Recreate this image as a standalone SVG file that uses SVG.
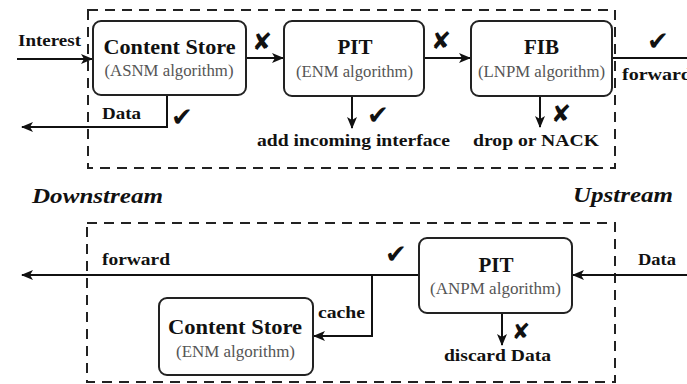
<svg xmlns="http://www.w3.org/2000/svg" width="687" height="384" viewBox="0 0 687 384">
<style>
.box{fill:#fff;stroke:#222;stroke-width:2}
.dash{fill:none;stroke:#222;stroke-width:2;stroke-dasharray:10 7}
.ln{fill:none;stroke:#111;stroke-width:2}
.t{font-family:"Liberation Serif","Times New Roman",serif;font-weight:bold;fill:#111}
.g{font-family:"Liberation Serif","Times New Roman",serif;fill:#555}
.bi{font-family:"Liberation Serif","Times New Roman",serif;font-weight:bold;font-style:italic;fill:#111}
.m{font-family:"DejaVu Sans",sans-serif;fill:#111}
</style>
<defs>
<marker id="ah" markerUnits="userSpaceOnUse" markerWidth="12" markerHeight="10" refX="11" refY="5" orient="auto">
<path d="M0,0 L12,5 L0,10 L3,5 Z" fill="#111"/>
</marker>
</defs>
<rect width="687" height="384" fill="#fff"/>
<g id="borders">
<path class="dash" d="M88,10 H615 V168 H88 Z"/>
<path class="dash" d="M87,223 H615 V382 H87 Z"/>
</g>
<g id="connectors">
<path class="ln" d="M17,59 H92" marker-end="url(#ah)"/>
<path class="ln" d="M246,58 H283" marker-end="url(#ah)"/>
<path class="ln" d="M424,58 H470" marker-end="url(#ah)"/>
<path class="ln" d="M612,58 H687"/>
<path class="ln" d="M167,95 V127 H22" marker-end="url(#ah)"/>
<path class="ln" d="M352,96 V128" marker-end="url(#ah)"/>
<path class="ln" d="M540,96 V127" marker-end="url(#ah)"/>
<path class="ln" d="M419,275 H22" marker-end="url(#ah)"/>
<path class="ln" d="M687,275 H573" marker-end="url(#ah)"/>
<path class="ln" d="M372,275 V336 H314" marker-end="url(#ah)"/>
<path class="ln" d="M502,313 V345" marker-end="url(#ah)"/>
</g>
<g id="cs1">
<rect class="box" x="93" y="21" width="153" height="74" rx="8"/>
<text class="t" x="169.5" y="54" font-size="21" text-anchor="middle" textLength="132" lengthAdjust="spacingAndGlyphs">Content Store</text>
<text class="g" x="169" y="76" font-size="16" text-anchor="middle" textLength="129" lengthAdjust="spacingAndGlyphs">(ASNM algorithm)</text>
</g>
<g id="pit1">
<rect class="box" x="284" y="21" width="140" height="75" rx="8"/>
<text class="t" x="355" y="54" font-size="21" text-anchor="middle">PIT</text>
<text class="g" x="354.5" y="77" font-size="16" text-anchor="middle" textLength="117" lengthAdjust="spacingAndGlyphs">(ENM algorithm)</text>
</g>
<g id="fib">
<rect class="box" x="471" y="21" width="141" height="75" rx="8"/>
<text class="t" x="541.5" y="54" font-size="21" text-anchor="middle">FIB</text>
<text class="g" x="541.5" y="77" font-size="16" text-anchor="middle" textLength="127" lengthAdjust="spacingAndGlyphs">(LNPM algorithm)</text>
</g>
<g id="pit2">
<rect class="box" x="419" y="238" width="153" height="75" rx="8"/>
<text class="t" x="496" y="272" font-size="21" text-anchor="middle">PIT</text>
<text class="g" x="495.5" y="294" font-size="16" text-anchor="middle" textLength="131" lengthAdjust="spacingAndGlyphs">(ANPM algorithm)</text>
</g>
<g id="cs2">
<rect class="box" x="159" y="298" width="154" height="77" rx="8"/>
<text class="t" x="235" y="334" font-size="21" text-anchor="middle" textLength="134" lengthAdjust="spacingAndGlyphs">Content Store</text>
<text class="g" x="235.5" y="357" font-size="16" text-anchor="middle" textLength="119" lengthAdjust="spacingAndGlyphs">(ENM algorithm)</text>
</g>
<g id="labels">
<text class="t" x="18" y="46" font-size="17" textLength="63" lengthAdjust="spacingAndGlyphs">Interest</text>
<text class="t" x="102" y="119" font-size="17" textLength="39" lengthAdjust="spacingAndGlyphs">Data</text>
<text class="t" x="257" y="146" font-size="17" textLength="193" lengthAdjust="spacingAndGlyphs">add incoming interface</text>
<text class="t" x="473" y="146" font-size="17" textLength="126" lengthAdjust="spacingAndGlyphs">drop or NACK</text>
<text class="t" x="622" y="80" font-size="17" textLength="70" lengthAdjust="spacingAndGlyphs">forward</text>
<text class="bi" x="32" y="203" font-size="21" textLength="131" lengthAdjust="spacingAndGlyphs">Downstream</text>
<text class="bi" x="573" y="202" font-size="21" textLength="100" lengthAdjust="spacingAndGlyphs">Upstream</text>
<text class="t" x="102" y="265" font-size="17" textLength="68" lengthAdjust="spacingAndGlyphs">forward</text>
<text class="t" x="638" y="265" font-size="17" textLength="38" lengthAdjust="spacingAndGlyphs">Data</text>
<text class="t" x="318" y="318" font-size="17" textLength="47" lengthAdjust="spacingAndGlyphs">cache</text>
<text class="t" x="444" y="361" font-size="17" textLength="107" lengthAdjust="spacingAndGlyphs">discard Data</text>
</g>
<g id="marks">
<text class="m" x="262" y="50" font-size="24" text-anchor="middle">✘</text>
<text class="m" x="441" y="49" font-size="24" text-anchor="middle">✘</text>
<text class="m" x="658" y="50" font-size="26" text-anchor="middle">✔</text>
<text class="m" x="182" y="126" font-size="26" text-anchor="middle">✔</text>
<text class="m" x="378" y="124" font-size="26" text-anchor="middle">✔</text>
<text class="m" x="561" y="122" font-size="24" text-anchor="middle">✘</text>
<text class="m" x="396" y="263" font-size="26" text-anchor="middle">✔</text>
<text class="m" x="521" y="339" font-size="22" text-anchor="middle">✘</text>
</g>
</svg>
